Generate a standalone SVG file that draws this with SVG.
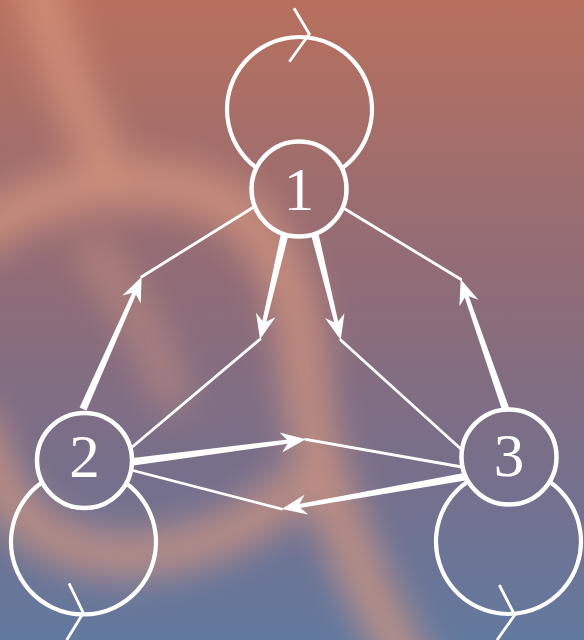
<svg xmlns="http://www.w3.org/2000/svg" xmlns:xlink="http://www.w3.org/1999/xlink" width="584" height="640" viewBox="0 0 584 640">
<defs>
<linearGradient id="bg" x1="0" y1="0" x2="0" y2="1">
<stop offset="0" stop-color="#b8705d"/>
<stop offset="0.45" stop-color="#8f6c78"/>
<stop offset="0.72" stop-color="#786f8a"/>
<stop offset="1" stop-color="#62799f"/>
</linearGradient>
<filter id="blur" x="-20%" y="-20%" width="140%" height="140%">
<feGaussianBlur stdDeviation="18"/>
</filter>
<path id="ah" d="M0 0 L-25 -10 L-17 0 L-25 10 Z"/>
<style>
.swirl{fill:none;stroke:#dc9a80;stroke-linecap:round}
.node{fill:none;stroke:#fff;stroke-width:4.5}
.loop{fill:none;stroke:#fff;stroke-width:4.2}
.chev{fill:none;stroke:#fff;stroke-width:2.8;stroke-linejoin:miter}
.thin{fill:none;stroke:#fff;stroke-width:2.8;stroke-linecap:round}
.thick{fill:#fff}
.lbl{font-family:"Liberation Serif","Times New Roman",serif;font-size:61px;fill:#fff;text-anchor:middle}
</style>
</defs>
<rect width="584" height="640" fill="url(#bg)"/>
<g id="background-swirl" filter="url(#blur)" opacity="0.75">
<path class="swirl" stroke-width="40" d="M38 -20 C55 50 78 115 112 172"/>
<path class="swirl" stroke-width="44" d="M-20 235 C30 190 150 160 230 205 C280 240 300 300 305 380 C310 450 340 540 410 670"/>
<path class="swirl" stroke-width="40" d="M-20 430 C0 520 60 560 140 555 C200 550 250 530 290 490"/>
<path class="swirl" stroke-width="36" opacity="0.6" d="M95 255 C125 295 150 335 172 395"/>
</g>
<g id="connectors">
<g id="e2-1">
<polygon class="thick" points="86.4,410.5 137.4,291.2 133.8,289.6 79.6,407.5"/>
<use href="#ah" fill="#fff" transform="translate(141.7,276.7) rotate(-66.1)"/>
<line class="thin" x1="141.7" y1="276.7" x2="253" y2="207.5"/>
</g>
<g id="e1-2">
<polygon class="thick" points="280.9,234.1 261.6,324.2 265.5,325.2 288.2,235.9"/>
<use href="#ah" fill="#fff" transform="translate(260,339.3) rotate(103.3)"/>
<line class="thin" x1="260" y1="339.3" x2="131" y2="448"/>
</g>
<g id="e1-3">
<polygon class="thick" points="311.4,235.9 335.2,325.9 339,324.9 318.6,234.1"/>
<use href="#ah" fill="#fff" transform="translate(340.7,340) rotate(76.25)"/>
<line class="thin" x1="340.7" y1="340" x2="462" y2="450"/>
</g>
<g id="e3-1">
<polygon class="thick" points="509.1,407.8 467.5,292.8 463.7,294.2 502.1,410.2"/>
<use href="#ah" fill="#fff" transform="translate(460.7,279.3) rotate(-109.1)"/>
<line class="thin" x1="460.7" y1="279.3" x2="345" y2="209"/>
</g>
<g id="e2-3">
<polygon class="thick" points="131.5,465.7 291.1,443.2 290.5,439.2 130.5,458.3"/>
<use href="#ah" fill="#fff" transform="translate(305.7,439.3) rotate(-7.4)"/>
<line class="thin" x1="305.7" y1="439.3" x2="462" y2="467"/>
</g>
<g id="e3-2">
<polygon class="thick" points="465.3,472.8 296.2,504.4 296.8,508.4 466.7,480.2"/>
<use href="#ah" fill="#fff" transform="translate(281.7,509) rotate(170)"/>
<line class="thin" x1="281.7" y1="509" x2="131" y2="470"/>
</g>
<g id="loop1">
<path class="loop" d="M256.8 168.1 A72.5 72.5 0 1 1 342.2 168.1"/>
<polyline class="chev" points="294,8.3 309.3,34 289.3,61.7"/>
</g>
<g id="loop2">
<path class="loop" d="M125.4 482.8 A72.5 72.5 0 1 1 41.6 482.8"/>
<polyline class="chev" points="69,583.3 83.3,613 66.7,640"/>
</g>
<g id="loop3">
<path class="loop" d="M549.2 481.5 A72.5 72.5 0 1 1 467.8 481.5"/>
<polyline class="chev" points="499.3,585 514.7,615 497,640"/>
</g>
</g>
<g id="node1">
<circle class="node" cx="299" cy="189" r="47.5"/>
<text class="lbl" x="299" y="210">1</text>
</g>
<g id="node2">
<circle class="node" cx="84.5" cy="460.5" r="47.5"/>
<text class="lbl" x="84.5" y="477">2</text>
</g>
<g id="node3">
<circle class="node" cx="509" cy="457" r="47.5"/>
<text class="lbl" x="509" y="476">3</text>
</g>
</svg>
